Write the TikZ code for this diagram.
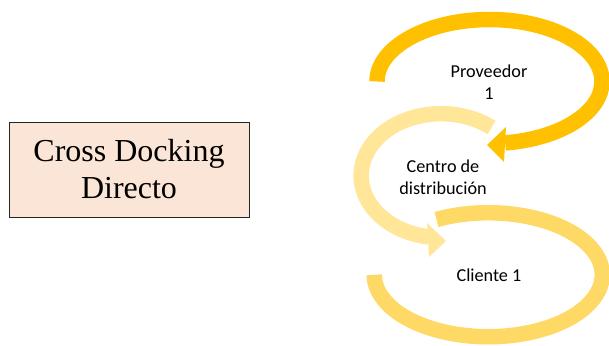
\documentclass[tikz,border=0pt]{standalone}
\usepackage{fontspec}
\setmainfont{Liberation Serif}
\newfontfamily\lblfont{Carlito}
\definecolor{gA}{HTML}{FFC000}
\definecolor{gB}{HTML}{FFE699}
\definecolor{gC}{HTML}{FFD966}
\definecolor{boxfill}{HTML}{FBE5D6}
\tikzset{
  titlebox/.style={draw=black!85,line width=0.9pt,fill=boxfill,minimum width=240pt,minimum height=95pt,inner sep=0pt,align=center,font=\fontsize{32}{37}\selectfont},
  lbl/.style={align=center,inner sep=0pt,font=\lblfont\fontsize{18.2}{21.5}\selectfont},
  band/.style={line width=15.5pt}
}
\begin{document}
\begin{tikzpicture}[x=1pt,y=1pt]
\useasboundingbox (0,0) rectangle (609,345);
\node[titlebox] (title) at (129,175.5) {Cross Docking\\Directo};
% top arc
\draw[band,gA] (377,263.5) arc[start angle=180,end angle=-82,x radius=112.5,y radius=62];
\coordinate (a1) at (506,218);
\coordinate (a2) at (504,183);
\coordinate (a3) at (487,200);
\fill[gA] (a1) -- (a2) -- (a3) -- cycle;
% middle arc
\draw[band,gB] (491.5,217.5) arc[start angle=51,end angle=261,x radius=80,y radius=62];
\coordinate (b1) at (427,122);
\coordinate (b2) at (429,88);
\coordinate (b3) at (446,104);
\fill[gB] (b1) -- (b2) -- (b3) -- cycle;
% bottom arc
\draw[band,gC] (436.5,125.5) arc[start angle=117,end angle=-180,x radius=114,y radius=62];
% labels
\node[lbl] (prov) at (489,263) {Proveedor\\1};
\node[lbl] (cd) at (443,167.5) {Centro de\\distribución};
\node[lbl] (cli) at (489,70) {Cliente 1};
\end{tikzpicture}
\end{document}
